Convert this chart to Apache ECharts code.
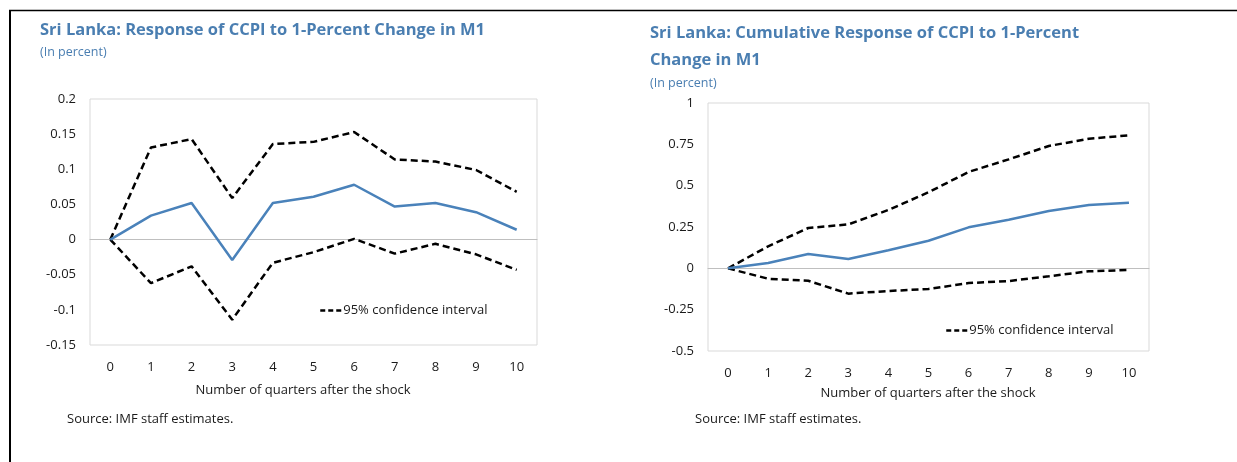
<!DOCTYPE html>
<html><head><meta charset="utf-8">
<script src="https://cdn.jsdelivr.net/npm/echarts@6/dist/echarts.min.js"></script>
<style>html,body{margin:0;padding:0;background:#fff}#c{width:1237px;height:462px}</style>
</head><body><div id="c"></div>
<script>
var quarters = ['0','1','2','3','4','5','6','7','8','9','10'];
// Left chart: response
var respMid   = [0, 0.034, 0.052, -0.029, 0.052, 0.061, 0.078, 0.047, 0.052, 0.039, 0.014];
var respUpper = [0, 0.131, 0.143, 0.059, 0.136, 0.139, 0.153, 0.114, 0.111, 0.099, 0.068];
var respLower = [0, -0.062, -0.038, -0.114, -0.033, -0.018, 0.001, -0.020, -0.006, -0.021, -0.043];
// Right chart: cumulative response
var cumMid   = [0, 0.032, 0.087, 0.056, 0.109, 0.167, 0.248, 0.294, 0.347, 0.383, 0.397];
var cumUpper = [0, 0.133, 0.244, 0.266, 0.353, 0.460, 0.583, 0.659, 0.740, 0.784, 0.804];
var cumLower = [0, -0.063, -0.075, -0.153, -0.137, -0.125, -0.089, -0.077, -0.048, -0.018, -0.010];

var FONT = 'Open Sans';
var BLUE = '#4a7eb1';
var LINE = '#4a82ba';
var TXT = '#1a1a1a';
var CI = '95% confidence interval';

function xAx(gi){
  return {type:'category', gridIndex:gi, data:quarters, boundaryGap:true,
    axisLine:{show:true, onZero:true, lineStyle:{color:'#bfbfbf', width:1}},
    axisTick:{show:false}, splitLine:{show:false},
    axisLabel:{color:TXT, fontFamily:FONT, fontSize:13, margin:16}};
}
function yAx(gi, min, max, step){
  return {type:'value', gridIndex:gi, min:min, max:max, interval:step,
    axisLine:{show:false}, axisTick:{show:false}, splitLine:{show:false},
    axisLabel:{color:TXT, fontFamily:FONT, fontSize:13, margin:14,
      formatter:function(v){return String(+v.toFixed(2));}}};
}
function dash(gi, data){
  return {type:'line', name:CI, xAxisIndex:gi, yAxisIndex:gi, data:data, symbol:'none',
    lineStyle:{color:'#000', width:2.5, type:[7,4]}, itemStyle:{color:'#000'}, z:3, silent:true};
}
function solid(gi, data){
  return {type:'line', name:'Response'+gi, xAxisIndex:gi, yAxisIndex:gi, data:data, symbol:'none',
    lineStyle:{color:LINE, width:2.5}, itemStyle:{color:LINE}, z:4, silent:true};
}
function txt(x, y, s, size, color, weight, align){
  return {type:'text', x:x, y:y, style:{text:s, fontFamily:FONT, fontSize:size, fill:color,
    fontWeight:weight||'normal', textAlign:align||'left', textVerticalAlign:'middle'}};
}
function leg(left, top){
  return {left:left, top:top, data:[CI], itemWidth:22, itemHeight:10, itemGap:4, selectedMode:false,
    itemStyle:{opacity:0}, lineStyle:{color:'#000', width:2.5, type:[5,3]},
    textStyle:{color:TXT, fontFamily:FONT, fontSize:13, padding:[0,0,0,-4]}};
}

var chart = echarts.init(document.getElementById('c'), null, {renderer:'canvas'});
chart.setOption({
  animation:false,
  grid:[
    {left:90, top:99, width:447, height:246, show:true, borderColor:'#d9d9d9', borderWidth:1, backgroundColor:'transparent'},
    {left:708, top:103, width:441, height:248, show:true, borderColor:'#d9d9d9', borderWidth:1, backgroundColor:'transparent'}
  ],
  xAxis:[xAx(0), xAx(1)],
  yAxis:[yAx(0, -0.15, 0.2, 0.05), yAx(1, -0.5, 1, 0.25)],
  legend:[leg(314, 299), leg(940, 319)],
  series:[
    dash(0, respUpper), dash(0, respLower), solid(0, respMid),
    dash(1, cumUpper), dash(1, cumLower), solid(1, cumMid)
  ],
  graphic:[
    {type:'line', shape:{x1:9, y1:10.5, x2:1237, y2:10.5}, style:{stroke:'#000', lineWidth:1.5}},
    {type:'line', shape:{x1:10, y1:10, x2:10, y2:462}, style:{stroke:'#000', lineWidth:2}},
    txt(40, 30, 'Sri Lanka: Response of CCPI to 1-Percent Change in M1', 16.5, BLUE, 'bold'),
    txt(40, 52, '(In percent)', 12.5, BLUE),
    txt(650, 33, 'Sri Lanka: Cumulative Response of CCPI to 1-Percent', 16.5, BLUE, 'bold'),
    txt(650, 60, 'Change in M1', 16.5, BLUE, 'bold'),
    txt(650, 83, '(In percent)', 12.5, BLUE),
    txt(303, 390, 'Number of quarters after the shock', 13, TXT, 'normal', 'center'),
    txt(928, 393, 'Number of quarters after the shock', 13, TXT, 'normal', 'center'),
    txt(67, 419, 'Source: IMF staff estimates.', 13, TXT),
    txt(695, 419, 'Source: IMF staff estimates.', 13, TXT)
  ]
});
</script></body></html>
